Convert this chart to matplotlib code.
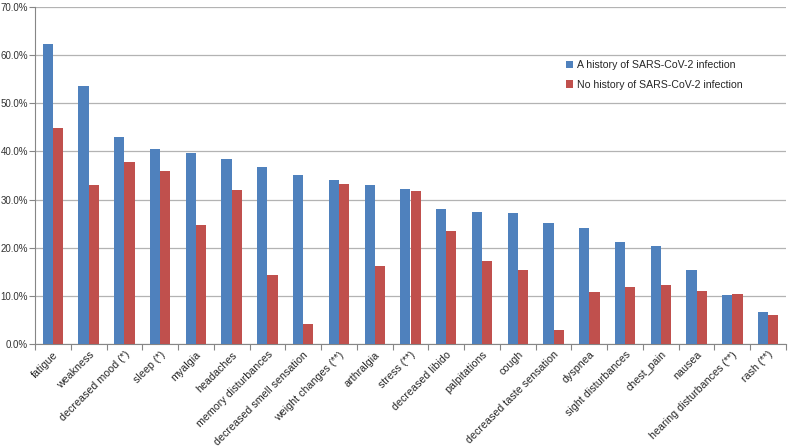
import matplotlib
matplotlib.use("Agg")
import matplotlib.pyplot as plt
import numpy as np
from matplotlib.ticker import FuncFormatter, MultipleLocator

plt.rcParams['font.family'] = ['Liberation Sans', 'DejaVu Sans']

symptoms = ["fatigue", "weakness", "decreased mood (*)", "sleep (*)", "myalgia",
            "headaches", "memory disturbances", "decreased smell sensation",
            "weight changes (**)", "arthralgia", "stress (**)", "decreased libido",
            "palpitations", "cough", "decreased taste sensation", "dyspnea",
            "sight disturbances", "chest_pain", "nausea", "hearing disturbances (**)",
            "rash (**)"]
covid_yes = [62.3, 53.5, 43.0, 40.5, 39.6, 38.4, 36.8, 35.0, 34.0, 33.0, 32.2,
             28.1, 27.4, 27.2, 25.1, 24.1, 21.1, 20.4, 15.4, 10.2, 6.7]
covid_no = [44.8, 33.0, 37.8, 35.9, 24.7, 31.9, 14.3, 4.2, 33.3, 16.1, 31.8,
            23.5, 17.2, 15.3, 3.0, 10.7, 11.8, 12.2, 11.1, 10.4, 6.0]
series_names = ["A history of SARS-CoV-2 infection", "No history of SARS-CoV-2 infection"]

fig = plt.figure(figsize=(7.9, 4.48), dpi=100)
ax = fig.add_axes([35/790, 1 - 344/448, 751/790, 337/448])

x = np.arange(len(symptoms))
w = 0.286
ax.bar(x - w/2, covid_yes, w, color="#4F81BD", label=series_names[0], zorder=3)
ax.bar(x + w/2, covid_no, w, color="#C0504D", label=series_names[1], zorder=3)

ax.set_xlim(-0.5, len(symptoms) - 0.5)
ax.set_ylim(0, 70)
ax.yaxis.set_major_locator(MultipleLocator(10))
ax.yaxis.set_major_formatter(FuncFormatter(lambda v, p: f"{v:.1f}%"))
ax.grid(axis="y", color="#B3B3B3", linewidth=0.9, zorder=0)

# category ticks sit on the boundaries, labels in the middle
ax.set_xticks(np.arange(len(symptoms) + 1) - 0.5)
ax.set_xticklabels([])
ax.set_xticks(x, minor=True)
ax.set_xticklabels(symptoms, minor=True, rotation=45, ha="right",
                   rotation_mode="anchor", fontsize=7.7, color="#262626")
ax.tick_params(axis="x", which="minor", length=0, pad=4)
ax.tick_params(axis="x", which="major", length=4, color="#868686", direction="out")
ax.tick_params(axis="y", length=4, color="#868686", labelsize=7, labelcolor="#333333", pad=1)

for s in ["top", "right"]:
    ax.spines[s].set_visible(False)
for s in ["left", "bottom"]:
    ax.spines[s].set_color("#868686")

ax.legend(loc="upper left", bbox_to_anchor=(0.694, 0.87), frameon=False,
          fontsize=7.6, handlelength=0.7, handleheight=0.7, handletextpad=0.4,
          labelspacing=0.9, labelcolor="#262626")

fig.savefig("out.png", dpi=100)
